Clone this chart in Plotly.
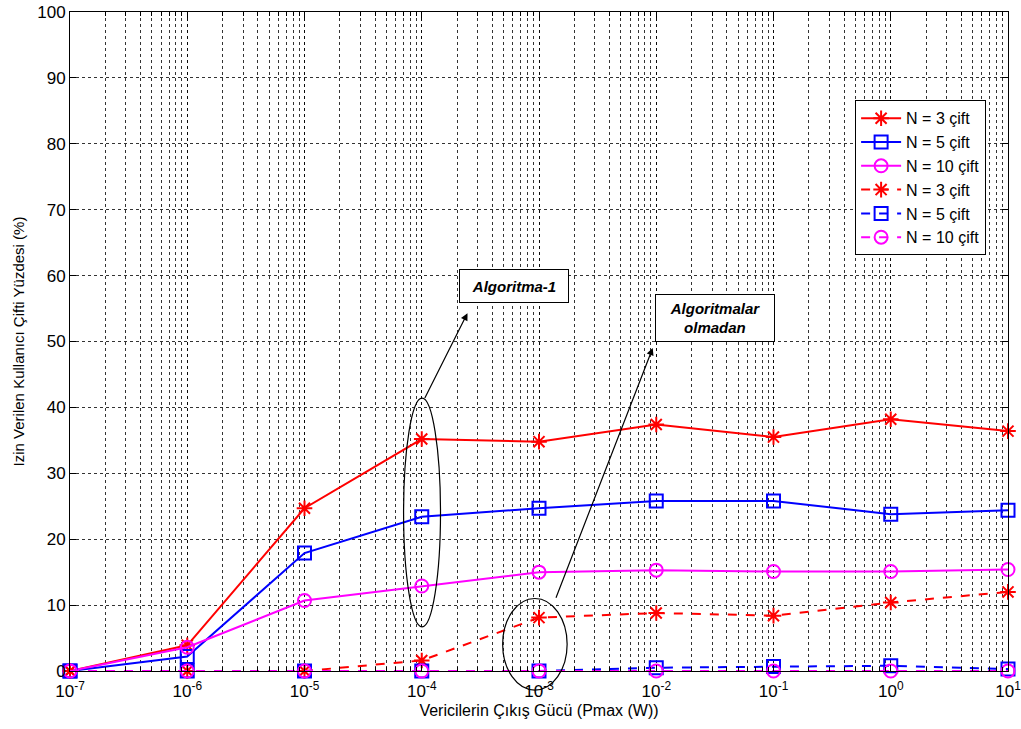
import math
import plotly.graph_objects as go

# Transmit power levels (W)
pmax = [1e-7, 1e-6, 1e-5, 1e-4, 1e-3, 1e-2, 1e-1, 1e0, 1e1]
tick_vals = pmax
tick_text = ["10<sup>-7</sup>", "10<sup>-6</sup>", "10<sup>-5</sup>", "10<sup>-4</sup>",
             "10<sup>-3</sup>", "10<sup>-2</sup>", "10<sup>-1</sup>", "10<sup>0</sup>",
             "10<sup>1</sup>"]

# Percentage of admitted user pairs, with Algoritma-1
alg_n3 = [0, 3.9, 24.7, 35.2, 34.8, 37.4, 35.5, 38.2, 36.4]
alg_n5 = [0, 2.2, 17.9, 23.4, 24.7, 25.8, 25.8, 23.8, 24.4]
alg_n10 = [0, 3.6, 10.7, 12.9, 15.0, 15.3, 15.1, 15.1, 15.4]

# Percentage of admitted user pairs, without the algorithms
base_n3 = [0, 0, 0, 1.6, 8.1, 8.8, 8.4, 10.4, 12.0]
base_n5 = [0, 0, 0, 0, 0, 0.5, 0.7, 0.8, 0.3]
base_n10 = [0, 0, 0, 0, 0, 0, 0, 0, 0]

legend_names = ["N = 3 çift", "N = 5 çift", "N = 10 çift",
                "N = 3 çift", "N = 5 çift", "N = 10 çift"]

RED, BLUE, MAG = "#ff0000", "#0000ff", "#ff00ff"
FONT = "Liberation Sans, Arial, sans-serif"

fig = go.Figure()

series = [
    (alg_n3, RED, "asterisk-open", "solid"),
    (alg_n5, BLUE, "square-open", "solid"),
    (alg_n10, MAG, "circle-open", "solid"),
    (base_n3, RED, "asterisk-open", "dash"),
    (base_n5, BLUE, "square-open", "dash"),
    (base_n10, MAG, "circle-open", "dash"),
]
for (vals, col, sym, dash), name in zip(series, legend_names):
    fig.add_trace(go.Scatter(
        x=pmax, y=vals, name=name, mode="lines+markers",
        line=dict(color=col, width=2, dash=dash),
        marker=dict(symbol=sym, size=13, color=col, line=dict(color=col, width=2)),
        cliponaxis=False,
    ))

XR = [-7, 1]
YR = [0, 100]


def px(xv):
    return (math.log10(xv) - XR[0]) / (XR[1] - XR[0])


def py(yv):
    return (yv - YR[0]) / (YR[1] - YR[0])


# Ellipses grouping the highlighted points
fig.add_shape(type="circle", xref="paper", yref="paper",
              x0=px(10 ** -4.155), x1=px(10 ** -3.84), y0=py(6.7), y1=py(41.4),
              line=dict(color="black", width=1.2))
fig.add_shape(type="circle", xref="paper", yref="paper",
              x0=px(10 ** -3.31), x1=px(10 ** -2.76), y0=py(-2.9), y1=py(11.0),
              line=dict(color="black", width=1.2))

# Arrows pointing to the labels
fig.add_annotation(x=-3.61, y=54.3, ax=-3.98, ay=41.2, xref="x", yref="y",
                   axref="x", ayref="y", text="", showarrow=True,
                   arrowhead=2, arrowsize=1.2, arrowwidth=1.2, arrowcolor="black")
fig.add_annotation(x=-2.03, y=49.0, ax=-2.86, ay=10.9, xref="x", yref="y",
                   axref="x", ayref="y", text="", showarrow=True,
                   arrowhead=2, arrowsize=1.2, arrowwidth=1.2, arrowcolor="black")

# Label boxes
fig.add_annotation(x=-3.214, y=58.4, xref="x", yref="y", showarrow=False,
                   text="<b><i>Algoritma-1</i></b>",
                   font=dict(family=FONT, size=15, color="black"),
                   bgcolor="white", bordercolor="black", borderwidth=1,
                   width=104, height=28, borderpad=2)
fig.add_annotation(x=-1.496, y=53.6, xref="x", yref="y", showarrow=False,
                   text="<b><i>Algoritmalar<br>olmadan</i></b>",
                   font=dict(family=FONT, size=15, color="black"),
                   bgcolor="white", bordercolor="black", borderwidth=1,
                   width=114, height=42, borderpad=2)

grid = dict(gridcolor="rgba(0,0,0,0.8)", gridwidth=1, griddash="dot")

fig.update_xaxes(
    type="log", range=XR, tickvals=tick_vals, ticktext=tick_text,
    showgrid=True, **grid,
    minor=dict(dtick="D1", showgrid=True, gridcolor="rgba(0,0,0,0.8)",
               griddash="dot", ticks="inside", ticklen=4, tickcolor="black"),
    ticks="inside", ticklen=6, tickcolor="black",
    showline=True, linecolor="black", linewidth=1, mirror="ticks",
    zeroline=False, automargin=False, ticklabelstandoff=5,
    ticklabeloverflow="allow",
    title=dict(text="Vericilerin Çıkış Gücü (Pmax (W))", standoff=4,
               font=dict(family=FONT, size=16, color="black")),
    tickfont=dict(family=FONT, size=17, color="black"),
)
fig.update_yaxes(
    range=YR, dtick=10, showgrid=True, **grid,
    ticks="inside", ticklen=6, tickcolor="black",
    showline=True, linecolor="black", linewidth=1, mirror="ticks",
    zeroline=False, automargin=False, ticklabeloverflow="allow",
    title=dict(text="Izin Verilen Kullanıcı Çifti Yüzdesi (%)", standoff=8,
               font=dict(family=FONT, size=15, color="black")),
    tickfont=dict(family=FONT, size=17, color="black"),
)

fig.update_layout(
    width=1021, height=729,
    margin=dict(l=70, r=13, t=12, b=58, autoexpand=False),
    paper_bgcolor="white", plot_bgcolor="white",
    font=dict(family=FONT, color="black"),
    showlegend=True,
    legend=dict(x=0.837, y=0.866, xanchor="left", yanchor="top",
                bgcolor="white", bordercolor="black", borderwidth=1,
                font=dict(family=FONT, size=16, color="black"),
                itemwidth=40, tracegroupgap=0),
)

fig.write_html("out.html")
